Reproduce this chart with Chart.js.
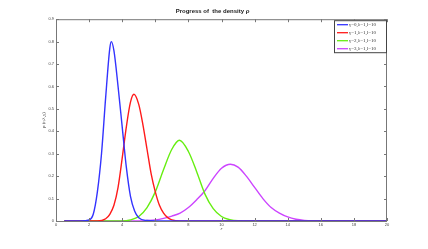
<!DOCTYPE html>
<html>
<head>
<meta charset="utf-8">
<script src="https://cdn.jsdelivr.net/npm/chart.js@4"></script>
<style>
  html, body { margin: 0; padding: 0; background: #fff; }
  #wrap { width: 428px; height: 249px; }
</style>
</head>
<body>
<div id="wrap"><canvas id="myChart"></canvas></div>
<script>
// series names
const labels = ["γ=0,λ=1,l=10", "γ=1,λ=1,l=10", "γ=2,λ=1,l=10", "γ=3,λ=1,l=10"];

// r values and density readings for each curve
const rBlue = [0.5, 1.5, 2, 2.25, 2.5, 2.75, 3, 3.25, 3.34, 3.5, 3.75, 4, 4.25, 4.5, 4.75, 5, 5.5, 6, 20];
const yBlue = [0, 0, 0.005, 0.03, 0.13, 0.3, 0.55, 0.77, 0.8, 0.76, 0.6, 0.42, 0.24, 0.11, 0.045, 0.015, 0.002, 0, 0];

const rRed = [0.5, 2.5, 3, 3.25, 3.5, 3.75, 4, 4.25, 4.5, 4.71, 5, 5.25, 5.5, 5.75, 6, 6.25, 6.5, 6.75, 7, 7.5, 20];
const yRed = [0, 0, 0.01, 0.03, 0.07, 0.15, 0.28, 0.42, 0.53, 0.565, 0.52, 0.43, 0.32, 0.21, 0.13, 0.07, 0.035, 0.015, 0.005, 0, 0];

const rGreen = [0.5, 4, 4.5, 5, 5.5, 6, 6.5, 7, 7.46, 8, 8.5, 9, 9.5, 10, 10.5, 11, 12, 20];
const yGreen = [0, 0, 0.005, 0.02, 0.06, 0.13, 0.23, 0.32, 0.36, 0.31, 0.22, 0.12, 0.055, 0.02, 0.006, 0.001, 0, 0];

const rPurple = [0.5, 5, 5.5, 6, 6.5, 7, 7.5, 8, 8.5, 9, 9.5, 10, 10.54, 11, 11.5, 12, 12.5, 13, 13.5, 14, 14.5, 15, 16, 20];
const yPurple = [0, 0, 0.002, 0.005, 0.012, 0.022, 0.035, 0.06, 0.095, 0.135, 0.19, 0.235, 0.253, 0.24, 0.2, 0.15, 0.1, 0.06, 0.035, 0.018, 0.008, 0.003, 0, 0];

const colors = ["#3333ff", "#ff1a1a", "#66ee11", "#cc44ff"];

function toPoints(xs, ys) {
  return xs.map((x, i) => ({ x: x, y: ys[i] }));
}

// box around the plot with inward ticks (matlab look) + legend in the top right corner
const frame = {
  id: "frame",
  afterDraw(chart) {
    const ctx = chart.ctx;
    const a = chart.chartArea;
    const xs = chart.scales.x;
    const ys = chart.scales.y;
    ctx.save();
    ctx.strokeStyle = "#777";
    ctx.lineWidth = 1;
    ctx.strokeRect(a.left + 0.5, a.top + 0.5, a.right - a.left - 1, a.bottom - a.top);
    ctx.beginPath();
    xs.ticks.forEach((t) => {
      const px = Math.round(xs.getPixelForValue(t.value)) + 0.5;
      ctx.moveTo(px, a.bottom); ctx.lineTo(px, a.bottom - 3);
      ctx.moveTo(px, a.top); ctx.lineTo(px, a.top + 3);
    });
    ys.ticks.forEach((t) => {
      const py = Math.round(ys.getPixelForValue(t.value)) + 0.5;
      ctx.moveTo(a.left, py); ctx.lineTo(a.left + 3, py);
      ctx.moveTo(a.right, py); ctx.lineTo(a.right - 3, py);
    });
    ctx.stroke();

    // legend
    const bw = 52, rowH = 8;
    const lx = a.right - bw - 1, ly = a.top + 1;
    const items = chart.data.datasets;
    ctx.fillStyle = "#fff";
    ctx.fillRect(lx, ly, bw, rowH * items.length);
    ctx.strokeStyle = "#444";
    ctx.strokeRect(lx + 0.5, ly + 0.5, bw, rowH * items.length);
    ctx.font = "5px 'Liberation Serif'";
    ctx.textBaseline = "middle";
    items.forEach((d, i) => {
      const cy = ly + 4.5 + i * rowH;
      ctx.strokeStyle = d.borderColor;
      ctx.lineWidth = 1.3;
      ctx.beginPath();
      ctx.moveTo(lx + 3, cy); ctx.lineTo(lx + 14, cy);
      ctx.stroke();
      ctx.fillStyle = "#333";
      ctx.fillText(d.label, lx + 15, cy);
    });
    ctx.restore();
  },
};

const ctx = document.getElementById("myChart").getContext("2d");
const myChart = new Chart(ctx, {
  type: "scatter",
  data: {
    datasets: [
      { label: labels[0], data: toPoints(rBlue, yBlue) },
      { label: labels[1], data: toPoints(rRed, yRed) },
      { label: labels[2], data: toPoints(rGreen, yGreen) },
      { label: labels[3], data: toPoints(rPurple, yPurple) },
    ].map((d, i) => Object.assign(d, {
      showLine: true,
      borderColor: colors[i],
      backgroundColor: colors[i],
      borderWidth: 1.4,
      pointRadius: 0,
      cubicInterpolationMode: "monotone",
    })),
  },
  options: {
    responsive: true,
    maintainAspectRatio: false,
    animation: false,
    layout: { padding: { left: 38, right: 41, top: 0, bottom: 16 } },
    scales: {
      x: {
        type: "linear",
        min: 0,
        max: 20,
        afterFit: (s) => { s.height = 12; },
        ticks: { stepSize: 2, color: "#444", font: { size: 4, family: "Liberation Sans" }, padding: 1 },
        grid: { display: false, drawTicks: false },
        border: { display: false },
        title: { display: true, text: "r", color: "#333", padding: { top: 0, bottom: 1 },
          font: { size: 5, style: "italic", family: "Liberation Serif" } },
      },
      y: {
        min: 0,
        max: 0.9,
        afterFit: (s) => { s.width = 18; },
        ticks: { stepSize: 0.1, color: "#444", font: { size: 4, family: "Liberation Sans" }, padding: 2,
          callback: (v) => (v === 0 ? "0" : v.toFixed(1)) },
        grid: { display: false, drawTicks: false },
        border: { display: false },
        title: { display: true, text: "ρ (r;λ,γ)", color: "#333", padding: { top: 3, bottom: 0 },
          font: { size: 5, family: "Liberation Serif" } },
      },
    },
    plugins: {
      title: {
        display: true,
        text: "Progress of  the density ρ",
        color: "#222",
        font: { size: 6, weight: "bold", family: "Liberation Sans" },
        padding: { top: 8, bottom: 4 },
      },
      legend: { display: false },
      tooltip: { enabled: false },
    },
  },
  plugins: [frame],
});
</script>
</body>
</html>
